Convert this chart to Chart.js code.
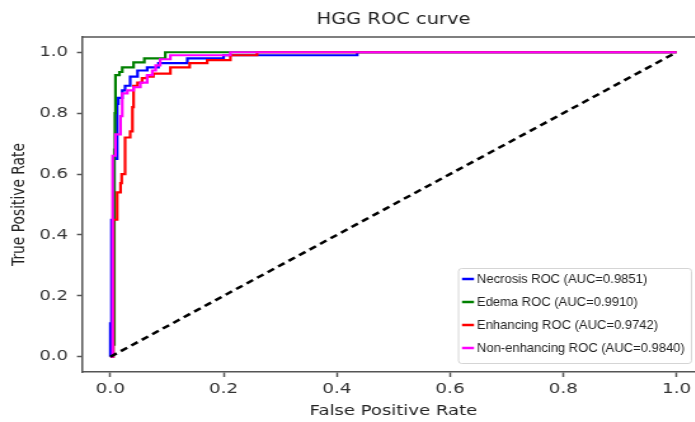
<!DOCTYPE html>
<html>
<head>
<meta charset="utf-8">
<script src="https://cdn.jsdelivr.net/npm/chart.js@4"></script>
<style>
html, body { margin: 0; padding: 0; background: #fff; overflow: hidden; }
/* the source figure is stretched sideways, so the chart is too */
#wrap { position: absolute; left: 0; top: 0; width: 567px; height: 422px; transform: scaleX(1.27); transform-origin: 0 0; }
</style>
</head>
<body>
<div id="wrap"><canvas id="roc"></canvas></div>
<script>
const seriesLabels = [
  "Necrosis ROC (AUC=0.9851)",
  "Edema ROC (AUC=0.9910)",
  "Enhancing ROC (AUC=0.9742)",
  "Non-enhancing ROC (AUC=0.9840)"
];
const seriesColors = ["#0000ff", "#008000", "#ff0000", "#ff00ff"];

// each point: at this FPR the TPR steps up to the given value
const necrosisFpr = [0, 0, 0.002, 0.007, 0.012, 0.014, 0.021, 0.026, 0.035, 0.048, 0.065, 0.085, 0.136, 0.2, 0.436, 1];
const necrosisTpr = [0, 0.11, 0.45, 0.65, 0.83, 0.85, 0.875, 0.89, 0.92, 0.94, 0.95, 0.964, 0.98, 0.99, 1, 1];

const edemaFpr = [0, 0.005, 0.007, 0.008, 0.009, 0.016, 0.021, 0.041, 0.06, 0.097, 1];
const edemaTpr = [0, 0.04, 0.68, 0.8, 0.925, 0.935, 0.95, 0.967, 0.98, 1, 1];

const enhancingFpr = [0, 0.005, 0.005, 0.012, 0.018, 0.02, 0.026, 0.035, 0.039, 0.041, 0.048, 0.056, 0.065, 0.076, 0.106, 0.14, 0.171, 0.212, 0.259, 1];
const enhancingTpr = [0, 0.105, 0.45, 0.54, 0.57, 0.6, 0.72, 0.74, 0.82, 0.89, 0.9, 0.915, 0.92, 0.93, 0.95, 0.964, 0.974, 0.99, 1, 1];

const nonEnhFpr = [0, 0.004, 0.009, 0.018, 0.021, 0.03, 0.041, 0.053, 0.065, 0.074, 0.08, 0.088, 0.106, 0.212, 1];
const nonEnhTpr = [0, 0.66, 0.73, 0.79, 0.865, 0.875, 0.885, 0.9, 0.925, 0.94, 0.957, 0.977, 0.99, 1, 1];

const chanceLine = [0, 1];
const xTicks = [0, 0.2, 0.4, 0.6, 0.8, 1.0];
const yTicks = [0, 0.2, 0.4, 0.6, 0.8, 1.0];

const STRETCH = 1.27;

const toPts = (xs, ys) => xs.map((x, i) => ({ x: x, y: ys[i] }));

const curves = [
  toPts(necrosisFpr, necrosisTpr),
  toPts(edemaFpr, edemaTpr),
  toPts(enhancingFpr, enhancingTpr),
  toPts(nonEnhFpr, nonEnhTpr)
];

const datasets = curves.map((pts, i) => ({
  label: seriesLabels[i],
  data: pts,
  borderColor: seriesColors[i],
  borderWidth: 2.2,
  stepped: "before",
  pointRadius: 0,
  fill: false,
  order: 4 - i
}));
datasets.push({
  label: "chance",
  data: toPts(chanceLine, chanceLine),
  borderColor: "#000",
  borderWidth: 2.5,
  borderDash: [6, 4],
  pointRadius: 0,
  fill: false,
  order: 0
});

const AXIS = "#555";
const FONT = "'DejaVu Sans', sans-serif";

// title, top/right frame and the boxed legend
const extras = {
  id: "extras",
  afterDraw(chart) {
    const ctx = chart.ctx, a = chart.chartArea;
    ctx.save();
    ctx.strokeStyle = AXIS;
    ctx.lineWidth = 1.5;
    ctx.beginPath();
    ctx.moveTo(a.left, a.top);
    ctx.lineTo(a.right, a.top);
    ctx.lineTo(a.right, a.bottom);
    ctx.stroke();

    ctx.fillStyle = "#222";
    ctx.font = "15.3px " + FONT;
    ctx.textAlign = "center";
    ctx.textBaseline = "middle";
    ctx.fillText("HGG ROC curve", (a.left + a.right) / 2, 20);

    // the legend box is not stretched in the source, undo the scale here
    ctx.scale(1 / STRETCH, 1);
    const bx = 458, by = 268, bw = 233, bh = 95;
    ctx.fillStyle = "rgba(255,255,255,0.85)";
    ctx.strokeStyle = "#d0d0d0";
    ctx.lineWidth = 1;
    ctx.beginPath();
    ctx.roundRect(bx + 0.5, by + 0.5, bw, bh, 3);
    ctx.fill();
    ctx.stroke();

    ctx.font = "13px 'Liberation Sans', sans-serif";
    ctx.textAlign = "left";
    seriesLabels.forEach((lab, i) => {
      const y = by + 11 + i * 23;
      ctx.strokeStyle = seriesColors[i];
      ctx.lineWidth = 2.5;
      ctx.beginPath();
      ctx.moveTo(bx + 4, y);
      ctx.lineTo(bx + 16, y);
      ctx.stroke();
      ctx.fillStyle = "#222";
      ctx.fillText(lab, bx + 19, y);
    });
    ctx.restore();
  }
};

new Chart(document.getElementById("roc"), {
  type: "line",
  data: { datasets: datasets },
  plugins: [extras],
  options: {
    responsive: true,
    maintainAspectRatio: false,
    animation: false,
    layout: { padding: { top: 37, right: 12 } },
    plugins: { legend: { display: false }, tooltip: { enabled: false } },
    scales: {
      x: {
        type: "linear",
        min: -0.05,
        max: 1.05,
        afterBuildTicks: s => { s.ticks = xTicks.map(v => ({ value: v })); },
        afterFit: s => { s.height = 50; },
        ticks: { color: "#333", padding: 4, font: { family: FONT, size: 14.5 }, callback: v => v.toFixed(1) },
        grid: { drawOnChartArea: false, drawTicks: true, tickLength: 5, color: AXIS, tickWidth: 1.5 },
        border: { color: AXIS, width: 1.5 },
        title: { display: true, text: "False Positive Rate", color: "#222", font: { family: FONT, size: 14.2 }, padding: { top: 0, bottom: 2 } }
      },
      y: {
        type: "linear",
        min: -0.05,
        max: 1.05,
        afterBuildTicks: s => { s.ticks = yTicks.map(v => ({ value: v })); },
        afterFit: s => { s.width = 64.6; },
        ticks: { color: "#333", padding: 7, font: { family: FONT, size: 14.2 }, callback: v => v.toFixed(1) },
        grid: { drawOnChartArea: false, drawTicks: true, tickLength: 4, color: AXIS, tickWidth: 1.5 },
        border: { color: AXIS, width: 1.5 },
        title: { display: true, text: "True Positive Rate", color: "#222", font: { family: FONT, size: 13.8 }, padding: { top: 7, bottom: 0 } }
      }
    }
  }
});
</script>
</body>
</html>
